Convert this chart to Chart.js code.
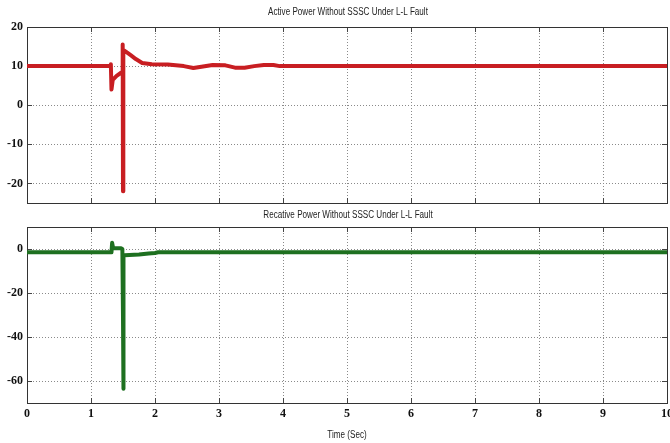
<!DOCTYPE html>
<html>
<head>
<meta charset="utf-8">
<script src="https://cdn.jsdelivr.net/npm/chart.js@4.4.1/dist/chart.umd.min.js"></script>
<style>
body{margin:0;background:#fff;}
#wrap{position:relative;width:670px;height:443px;overflow:hidden;background:#fff;}
canvas{position:absolute;left:0;}
</style>
</head>
<body>
<div id="wrap">
<canvas id="topChart" width="670" height="215" style="top:0px"></canvas>
<canvas id="bottomChart" width="670" height="238" style="top:205px"></canvas>
</div>
<script>
// Active power (top plot)
var activeTime = [0, 1.30, 1.31, 1.32, 1.34, 1.40, 1.47, 1.49, 1.495, 1.50, 1.505, 1.52, 1.56, 1.62, 1.70, 1.80, 1.95, 2.2, 2.45, 2.6, 2.75, 2.9, 3.1, 3.25, 3.4, 3.55, 3.7, 3.85, 3.95, 10];
var activeP    = [10, 10, 10.5, 4, 6.5, 7.5, 8.3, 8.5, 15.5, -22, 14, 14, 13.5, 12.8, 11.8, 10.8, 10.5, 10.4, 10, 9.5, 9.9, 10.3, 10.2, 9.6, 9.6, 10.0, 10.3, 10.3, 10, 10];

// Reactive power (bottom plot)
var reactTime = [0, 1.32, 1.33, 1.345, 1.36, 1.47, 1.49, 1.50, 1.505, 1.51, 1.52, 1.6, 1.75, 1.9, 2.0, 2.05, 10];
var reactQ    = [-1.5, -1.5, 2.8, 0.5, 0.3, 0.3, 0, -31, -63.5, -3, -2.8, -2.7, -2.5, -2.0, -1.8, -1.5, -1.5];

var timeTicks = [0, 1, 2, 3, 4, 5, 6, 7, 8, 9, 10];
var activeTicks = [-20, -10, 0, 10, 20];
var reactTicks = [-60, -40, -20, 0];

var sans = "'Liberation Sans',Arial,sans-serif";
var serif = "'Liberation Serif','Times New Roman',serif";

function pts(xs, ys){
	var out = [];
	for (var i = 0; i < xs.length; i++) out.push({x: xs[i], y: ys[i]});
	return out;
}

// narrow text, the matlab titles are squeezed
function narrowText(c, text, x, y, size){
	c.save();
	c.font = size + 'px ' + sans;
	c.fillStyle = '#222';
	c.textAlign = 'center';
	c.textBaseline = 'middle';
	c.translate(x, y);
	c.scale(0.81, 1);
	c.fillText(text, 0, 0);
	c.restore();
}

// box round the plot area, with little inward ticks like matlab
var framePlugin = {
	id: 'frame',
	beforeDatasetsDraw: function(chart){
		var c = chart.ctx, a = chart.chartArea;
		var sx = chart.scales.x, sy = chart.scales.y;
		c.save();
		c.strokeStyle = '#444';
		c.lineWidth = 1;
		c.beginPath();
		sx.ticks.forEach(function(t){
			var px = Math.round(sx.getPixelForValue(t.value)) + 0.5;
			c.moveTo(px, a.top); c.lineTo(px, a.top + 5);
			c.moveTo(px, a.bottom); c.lineTo(px, a.bottom - 5);
		});
		sy.ticks.forEach(function(t){
			var py = Math.round(sy.getPixelForValue(t.value)) + 0.5;
			c.moveTo(a.left, py); c.lineTo(a.left + 5, py);
			c.moveTo(a.right, py); c.lineTo(a.right - 5, py);
		});
		c.stroke();
		c.strokeStyle = '#333';
		c.strokeRect(Math.round(a.left) + 0.5, Math.round(a.top) + 0.5, Math.round(a.right - a.left), Math.round(a.bottom - a.top));
		c.restore();
	},
	afterDraw: function(chart, args, opts){
		var a = chart.chartArea;
		var mid = (a.left + a.right) / 2;
		narrowText(chart.ctx, opts.title, mid + 1, opts.titleY, 10);
		if (opts.xTitle) narrowText(chart.ctx, opts.xTitle, mid, opts.xTitleY, 10);
	}
};

function makeChart(id, title, xs, ys, color, yMin, yMax, yTicks, showX, pad, titleY){
	var ctx = document.getElementById(id).getContext('2d');
	return new Chart(ctx, {
		type: 'line',
		data: {
			datasets: [{
				data: pts(xs, ys),
				borderColor: color,
				borderWidth: 4,
				borderJoinStyle: 'round',
				borderCapStyle: 'round',
				pointRadius: 0,
				tension: 0,
				fill: false
			}]
		},
		options: {
			responsive: false,
			animation: false,
			layout: {padding: pad},
			plugins: {
				legend: {display: false},
				tooltip: {enabled: false},
				title: {display: false},
				frame: {
					title: title,
					titleY: titleY,
					xTitle: showX ? 'Time (Sec)' : null,
					xTitleY: 230
				}
			},
			scales: {
				x: {
					type: 'linear',
					min: 0, max: 10,
					afterBuildTicks: function(s){ s.ticks = timeTicks.map(function(v){ return {value: v}; }); },
					afterFit: function(s){
						s.paddingLeft = 0; s.paddingRight = 0;
						s.height = showX ? 40 : 0;
					},
					grid: {color: '#8a8a8a', lineWidth: 1, drawTicks: false},
					border: {display: false, dash: [1, 2]},
					ticks: {
						display: showX,
						color: '#111',
						padding: 4,
						maxRotation: 0,
						autoSkip: false,
						font: {family: serif, size: 12, weight: 'bold'}
					}
				},
				y: {
					min: yMin, max: yMax,
					afterBuildTicks: function(s){ s.ticks = yTicks.map(function(v){ return {value: v}; }); },
					afterFit: function(s){ s.width = 27; },
					grid: {color: '#8a8a8a', lineWidth: 1, drawTicks: false},
					border: {display: false, dash: [1, 2]},
					ticks: {
						color: '#111',
						padding: 4,
						autoSkip: false,
						font: {family: serif, size: 12, weight: 'bold'}
					}
				}
			}
		},
		plugins: [framePlugin]
	});
}

var c1 = makeChart('topChart', 'Active Power Without SSSC Under L-L Fault', activeTime, activeP, 'rgb(200,30,34)', -25, 20, activeTicks, false, {left: 0, right: 3, top: 27, bottom: 12}, 12);
var c2 = makeChart('bottomChart', 'Recative Power Without SSSC Under L-L Fault', reactTime, reactQ, 'rgb(30,112,32)', -70, 10, reactTicks, true, {left: 0, right: 3, top: 22, bottom: 0}, 10);
</script>
</body>
</html>
